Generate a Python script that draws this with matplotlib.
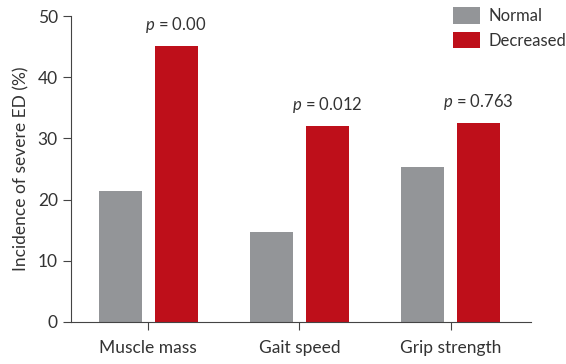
import matplotlib
matplotlib.use("Agg")
import matplotlib.pyplot as plt
import numpy as np

plt.rcParams['font.family'] = ['Lato', 'DejaVu Sans']
plt.rcParams['mathtext.fontset'] = 'custom'
plt.rcParams['mathtext.it'] = 'Lato:italic'
plt.rcParams['mathtext.rm'] = 'Lato'

categories = ['Muscle mass', 'Gait speed', 'Grip strength']
normal = [21.4, 14.7, 25.3]
decreased = [45.1, 32.0, 32.5]
p_labels = ['0.00', '0.012', '0.763']

gray = '#939598'
red = '#be0f1a'
txt = '#333333'

fig = plt.figure(figsize=(5.66, 3.64), dpi=100)
ax = fig.add_axes([0.1254, 0.1154, 0.8126, 0.8406])

x = np.arange(len(categories))
w = 0.285
off = 0.185
ax.bar(x - off, normal, w, color=gray, label='Normal')
ax.bar(x + off, decreased, w, color=red, label='Decreased')

for i in range(len(categories)):
    ax.text(x[i] + off, decreased[i] + 1.8, '$p$ = ' + p_labels[i],
            ha='center', va='bottom', fontsize=12, color=txt)

ax.set_xlim(-0.51, 2.53)
ax.set_ylim(0, 50)
ax.set_xticks(x)
ax.set_xticklabels(categories, fontsize=12.5, color=txt)
ax.set_yticks([0, 10, 20, 30, 40, 50])
ax.tick_params(axis='y', labelsize=12.5, labelcolor=txt, length=6, color='#444444')
ax.tick_params(axis='x', length=6, color='#444444', pad=7)
ax.set_ylabel('Incidence of severe ED (%)', fontsize=12.5, color=txt, labelpad=6)
for s in ['top', 'right']:
    ax.spines[s].set_visible(False)
for s in ['left', 'bottom']:
    ax.spines[s].set_color('#444444')

ax.legend(loc='upper right', bbox_to_anchor=(1.092, 1.05), frameon=False, fontsize=12,
          handlelength=1.62, handleheight=1.15, handletextpad=0.55, labelspacing=0.45,
          labelcolor=txt, borderaxespad=0)

fig.savefig('out.png', dpi=100)
